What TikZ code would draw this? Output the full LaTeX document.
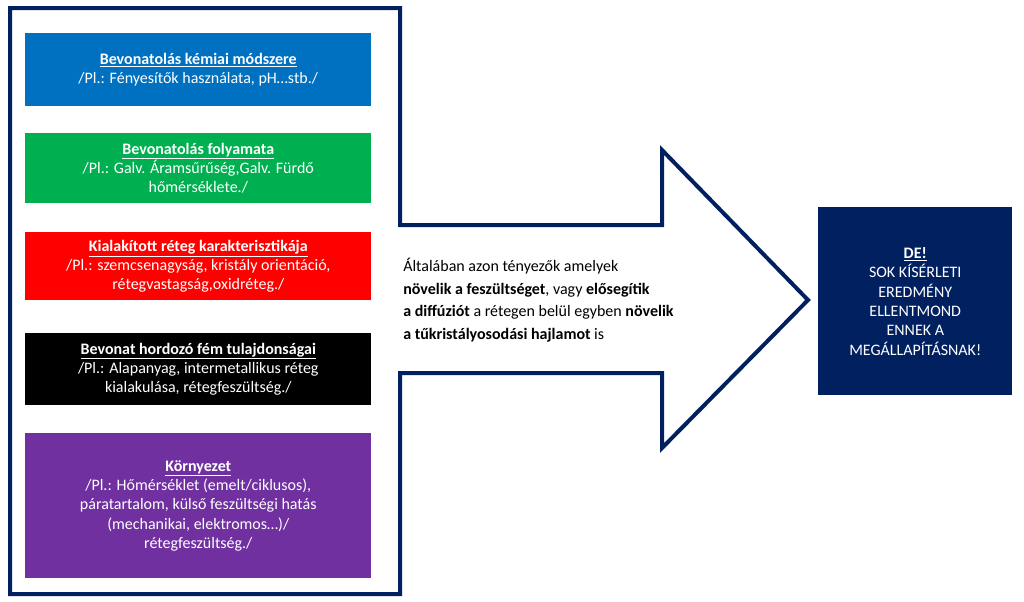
\documentclass[tikz,border=0pt]{standalone}
\usepackage{fontspec}
\setmainfont{Carlito}
\usepackage{tikz}
\usetikzlibrary{positioning}
\definecolor{navy}{RGB}{0,32,96}
\definecolor{boxblue}{RGB}{0,112,192}
\definecolor{boxgreen}{RGB}{0,176,80}
\definecolor{boxred}{RGB}{255,0,0}
\definecolor{boxpurple}{RGB}{112,48,160}

\begin{document}
\begin{tikzpicture}[
    x=0.75pt,y=-0.75pt,
    factor/.style={rectangle,anchor=north west,inner sep=0pt,text=white,font=\fontsize{12}{14.5}\selectfont,align=center},
    result/.style={rectangle,anchor=north west,inner sep=0pt,fill=navy,text=white,font=\fontsize{12}{14.5}\selectfont,align=center}
]
\useasboundingbox (0,0) rectangle (1024,601);

% Arrow frame
\draw[navy,line width=3pt] (10,8) -- (400,8) -- (400,225) -- (662,225) -- (662,150)
    -- (808,300) -- (662,448) -- (662,373) -- (400,373) -- (400,594) -- (10,594) -- cycle;

% Factors
\node[factor,fill=boxblue,minimum width=346*0.75pt,minimum height=73*0.75pt] (chem) at (25,33)
    {\textbf{\underline{Bevonatolás kémiai módszere}}\\/Pl.: Fényesítők használata, pH…stb./};
\node[factor,fill=boxgreen,minimum width=346*0.75pt,minimum height=70*0.75pt] (proc) at (25,133)
    {\textbf{\underline{Bevonatolás folyamata}}\\/Pl.: Galv. Áramsűrűség,Galv. Fürdő\\hőmérséklete./};
\node[factor,fill=boxred,minimum width=346*0.75pt,minimum height=68*0.75pt] (layer) at (25,232)
    {\textbf{\underline{Kialakított réteg karakterisztikája}}\\/Pl.: szemcsenagyság, kristály orientáció,\\rétegvastagság,oxidréteg./};
\node[factor,fill=black,minimum width=346*0.75pt,minimum height=72*0.75pt] (base) at (25,333)
    {\textbf{\underline{Bevonat hordozó fém tulajdonságai}}\\/Pl.: Alapanyag, intermetallikus réteg\\kialakulása, rétegfeszültség./};
\node[factor,fill=boxpurple,minimum width=346*0.75pt,minimum height=145*0.75pt] (env) at (25,433)
    {\textbf{\underline{Környezet}}\\/Pl.: Hőmérséklet (emelt/ciklusos),\\páratartalom, külső feszültségi hatás\\(mechanikai, elektromos…)/\\rétegfeszültség./};

% Arrow text
\node[anchor=west,align=left,inner sep=0pt,font=\fontsize{12}{17}\selectfont] (summary) at (403,300)
    {Általában azon tényezők amelyek\\
     \textbf{növelik a feszültséget}, vagy \textbf{elősegítik}\\
     \textbf{a diffúziót} a rétegen belül egyben \textbf{növelik}\\
     \textbf{a tűkristályosodási hajlamot} is};

% Result
\node[result,minimum width=194*0.75pt,minimum height=188*0.75pt] (but) at (818,207)
    {\textbf{\underline{DE!}}\\SOK KÍSÉRLETI\\EREDMÉNY\\ELLENTMOND\\ENNEK A\\MEGÁLLAPÍTÁSNAK!};

\end{tikzpicture}
\end{document}
